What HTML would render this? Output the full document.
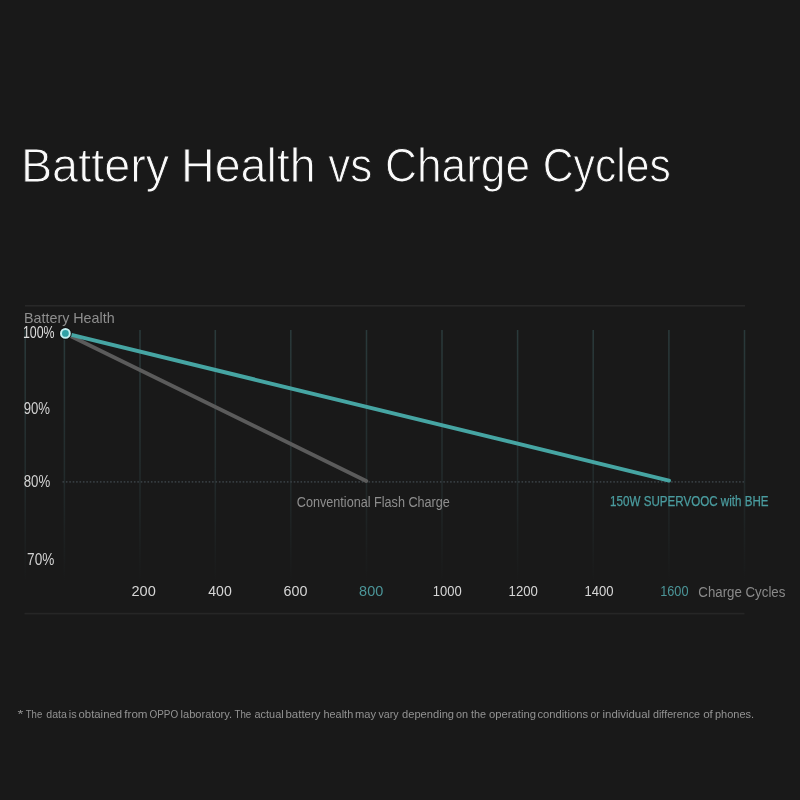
<!DOCTYPE html>
<html>
<head>
<meta charset="utf-8">
<title>Battery Health vs Charge Cycles</title>
<style>
html,body{margin:0;padding:0;}
body{width:800px;height:800px;background:#191919;overflow:hidden;position:relative;}
svg{position:absolute;left:0;top:0;font-family:"Liberation Sans",sans-serif;}
</style>
</head>
<body>
<svg width="800" height="800" viewBox="0 0 800 800">
  <defs>
    <linearGradient id="gg" x1="0" y1="0" x2="0" y2="1">
      <stop offset="0" stop-color="#2a3a3b"/>
      <stop offset="0.55" stop-color="#232c2d"/>
      <stop offset="1" stop-color="#191919"/>
    </linearGradient>
  </defs>
  <rect x="25" y="305" width="720" height="1.6" fill="#282828"/>
  <rect x="24.5" y="612.8" width="720" height="1.6" fill="#262626"/>
  <rect x="24.45" y="330" width="1.5" height="252" fill="url(#gg)"/><rect x="63.65" y="330" width="1.5" height="252" fill="url(#gg)"/><rect x="139.25" y="330" width="1.5" height="252" fill="url(#gg)"/><rect x="214.55" y="330" width="1.5" height="252" fill="url(#gg)"/><rect x="290.05" y="330" width="1.5" height="252" fill="url(#gg)"/><rect x="365.75" y="330" width="1.5" height="252" fill="url(#gg)"/><rect x="441.25" y="330" width="1.5" height="252" fill="url(#gg)"/><rect x="516.85" y="330" width="1.5" height="252" fill="url(#gg)"/><rect x="592.45" y="330" width="1.5" height="252" fill="url(#gg)"/><rect x="668.15" y="330" width="1.5" height="252" fill="url(#gg)"/><rect x="743.75" y="330" width="1.5" height="252" fill="url(#gg)"/>
  <line x1="62.5" y1="481.9" x2="744" y2="481.9" stroke="#363c40" stroke-width="1.6" stroke-dasharray="1.6 1.8"/>
  <line x1="65.4" y1="333.4" x2="366.25" y2="480.9" stroke="#5b5b5b" stroke-width="3.9" stroke-linecap="round"/>
  <line x1="65.4" y1="333.4" x2="669" y2="480.6" stroke="#46a5a3" stroke-width="3.9" stroke-linecap="round"/>
  <circle cx="65.4" cy="333.4" r="6.4" fill="#101010"/>
  <circle cx="65.4" cy="333.4" r="4.4" fill="#30a0a5" stroke="#c2eef0" stroke-width="2"/>
  <text x="20.90" y="182.20" font-size="48.50" textLength="148.32" lengthAdjust="spacingAndGlyphs" fill="#fafafa" stroke="#191919" stroke-width="1.0">Battery</text><text x="181.00" y="182.20" font-size="48.50" textLength="134.73" lengthAdjust="spacingAndGlyphs" fill="#fafafa" stroke="#191919" stroke-width="1.0">Health</text><text x="328.25" y="182.20" font-size="48.50" textLength="44.16" lengthAdjust="spacingAndGlyphs" fill="#fafafa" stroke="#191919" stroke-width="1.0">vs</text><text x="384.95" y="182.20" font-size="48.50" textLength="145.16" lengthAdjust="spacingAndGlyphs" fill="#fafafa" stroke="#191919" stroke-width="1.0">Charge</text><text x="542.75" y="182.20" font-size="48.50" textLength="128.09" lengthAdjust="spacingAndGlyphs" fill="#fafafa" stroke="#191919" stroke-width="1.0">Cycles</text><text x="24.00" y="322.70" font-size="14.40" textLength="90.62" lengthAdjust="spacingAndGlyphs" fill="#8e8e8e">Battery Health</text><text x="22.90" y="338.00" font-size="16.00" textLength="31.69" lengthAdjust="spacingAndGlyphs" fill="#dedede">100%</text><text x="23.70" y="413.75" font-size="16.00" textLength="26.34" lengthAdjust="spacingAndGlyphs" fill="#d2d2d2">90%</text><text x="23.70" y="486.90" font-size="16.00" textLength="26.48" lengthAdjust="spacingAndGlyphs" fill="#d2d2d2">80%</text><text x="27.10" y="564.90" font-size="16.00" textLength="27.21" lengthAdjust="spacingAndGlyphs" fill="#d2d2d2">70%</text><text x="296.80" y="506.50" font-size="15.20" textLength="153.05" lengthAdjust="spacingAndGlyphs" fill="#8e8e8e">Conventional Flash Charge</text><text x="610.10" y="505.85" font-size="14.00" textLength="158.53" lengthAdjust="spacingAndGlyphs" fill="#4a9c9f" stroke="#4a9c9f" stroke-width="0.25">150W SUPERVOOC with BHE</text><text x="131.50" y="596.25" font-size="15.20" textLength="24.25" lengthAdjust="spacingAndGlyphs" fill="#d6d6d6">200</text><text x="208.30" y="596.25" font-size="15.20" textLength="23.47" lengthAdjust="spacingAndGlyphs" fill="#d6d6d6">400</text><text x="283.60" y="596.25" font-size="15.20" textLength="23.92" lengthAdjust="spacingAndGlyphs" fill="#d6d6d6">600</text><text x="359.10" y="596.25" font-size="15.20" textLength="24.14" lengthAdjust="spacingAndGlyphs" fill="#4b9598">800</text><text x="432.80" y="596.25" font-size="15.20" textLength="28.92" lengthAdjust="spacingAndGlyphs" fill="#d6d6d6">1000</text><text x="508.60" y="596.25" font-size="15.20" textLength="29.30" lengthAdjust="spacingAndGlyphs" fill="#d6d6d6">1200</text><text x="584.50" y="596.25" font-size="15.20" textLength="29.07" lengthAdjust="spacingAndGlyphs" fill="#d6d6d6">1400</text><text x="660.20" y="596.25" font-size="15.20" textLength="28.31" lengthAdjust="spacingAndGlyphs" fill="#4b9598">1600</text><text x="698.30" y="597.00" font-size="15.50" textLength="87.06" lengthAdjust="spacingAndGlyphs" fill="#8a8a8a">Charge Cycles</text><text x="17.50" y="717.50" font-size="11.20" textLength="5.90" lengthAdjust="spacingAndGlyphs" fill="#939393">*</text><text x="25.75" y="717.50" font-size="11.20" textLength="16.44" lengthAdjust="spacingAndGlyphs" fill="#939393">The</text><text x="46.25" y="717.50" font-size="11.20" textLength="20.65" lengthAdjust="spacingAndGlyphs" fill="#939393">data</text><text x="68.75" y="717.50" font-size="11.20" textLength="7.84" lengthAdjust="spacingAndGlyphs" fill="#939393">is</text><text x="78.50" y="717.50" font-size="11.20" textLength="43.61" lengthAdjust="spacingAndGlyphs" fill="#939393">obtained</text><text x="124.30" y="717.50" font-size="11.20" textLength="23.20" lengthAdjust="spacingAndGlyphs" fill="#939393">from</text><text x="149.50" y="717.50" font-size="11.20" textLength="28.67" lengthAdjust="spacingAndGlyphs" fill="#939393">OPPO</text><text x="180.50" y="717.50" font-size="11.20" textLength="51.61" lengthAdjust="spacingAndGlyphs" fill="#939393">laboratory.</text><text x="234.50" y="717.50" font-size="11.20" textLength="16.74" lengthAdjust="spacingAndGlyphs" fill="#939393">The</text><text x="254.50" y="717.50" font-size="11.20" textLength="29.14" lengthAdjust="spacingAndGlyphs" fill="#939393">actual</text><text x="285.50" y="717.50" font-size="11.20" textLength="35.03" lengthAdjust="spacingAndGlyphs" fill="#939393">battery</text><text x="323.50" y="717.50" font-size="11.20" textLength="29.70" lengthAdjust="spacingAndGlyphs" fill="#939393">health</text><text x="355.00" y="717.50" font-size="11.20" textLength="21.05" lengthAdjust="spacingAndGlyphs" fill="#939393">may</text><text x="378.50" y="717.50" font-size="11.20" textLength="20.15" lengthAdjust="spacingAndGlyphs" fill="#939393">vary</text><text x="402.00" y="717.50" font-size="11.20" textLength="52.02" lengthAdjust="spacingAndGlyphs" fill="#939393">depending</text><text x="456.00" y="717.50" font-size="11.20" textLength="12.10" lengthAdjust="spacingAndGlyphs" fill="#939393">on</text><text x="470.90" y="717.50" font-size="11.20" textLength="15.10" lengthAdjust="spacingAndGlyphs" fill="#939393">the</text><text x="489.00" y="717.50" font-size="11.20" textLength="47.02" lengthAdjust="spacingAndGlyphs" fill="#939393">operating</text><text x="537.50" y="717.50" font-size="11.20" textLength="50.59" lengthAdjust="spacingAndGlyphs" fill="#939393">conditions</text><text x="590.50" y="717.50" font-size="11.20" textLength="9.23" lengthAdjust="spacingAndGlyphs" fill="#939393">or</text><text x="602.50" y="717.50" font-size="11.20" textLength="47.62" lengthAdjust="spacingAndGlyphs" fill="#939393">individual</text><text x="653.00" y="717.50" font-size="11.20" textLength="47.00" lengthAdjust="spacingAndGlyphs" fill="#939393">difference</text><text x="703.15" y="717.50" font-size="11.20" textLength="9.73" lengthAdjust="spacingAndGlyphs" fill="#939393">of</text><text x="715.00" y="717.50" font-size="11.20" textLength="39.11" lengthAdjust="spacingAndGlyphs" fill="#939393">phones.</text>
</svg>
</body>
</html>
